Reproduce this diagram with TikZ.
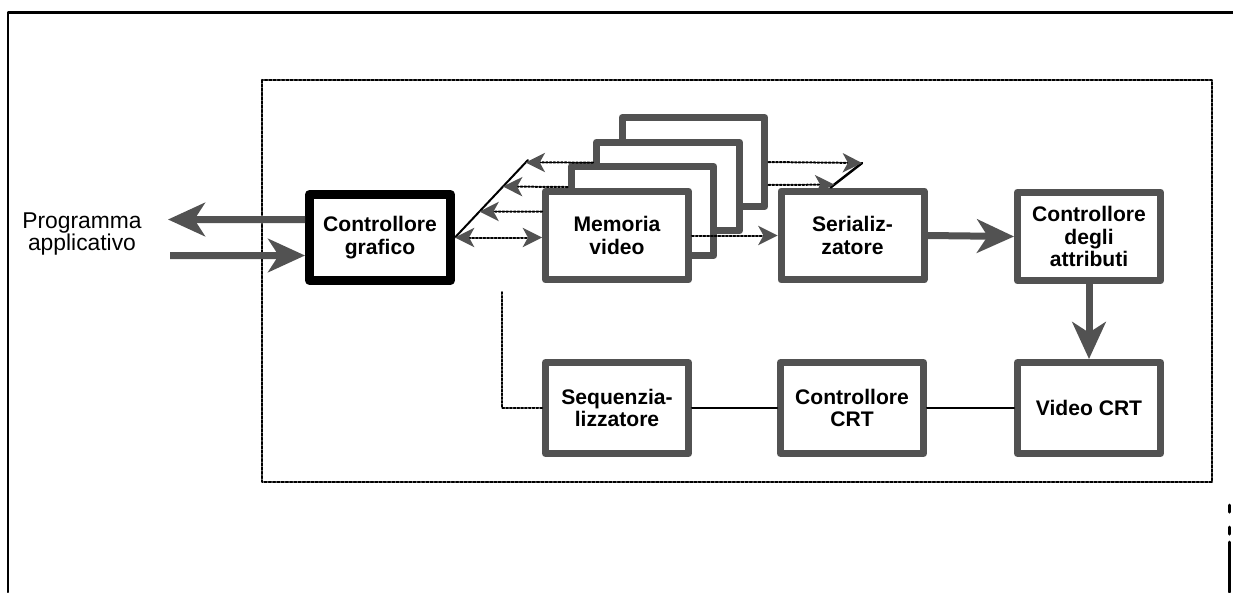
\documentclass[tikz,border=0pt]{standalone}
\usepackage{fontspec}
\setmainfont{Liberation Sans}
\usetikzlibrary{arrows.meta,calc}
\colorlet{retino}{black!68}
\tikzset{
	blocco/.style={draw=retino, fill=white, line width=0.14cm, minimum width=2.86cm, minimum height=1.78cm, inner sep=0pt, align=center},
	freccia/.style={draw=retino, line width=0.14cm, line cap=butt, -{Stealth[length=21pt, width=19pt, inset=6pt]}},
	punta/.tip={Stealth[length=11pt, width=11pt, inset=3pt, color=retino]},
	freccina/.style={densely dotted, line width=0.04cm, -punta}
}
\begin{document}
\begin{tikzpicture}[x=0.02cm, y=-0.02cm, line join=round, line cap=round, font=\bfseries\fontsize{12}{13}\selectfont]
	\useasboundingbox (0,0) rectangle (1233,592);
	% cornice esterna
	\draw[line width=0.06cm] (1233,12) -- (8,12) -- (8,592);
	\draw[line width=0.06cm] (1229,505) -- (1229,512) (1229,527) -- (1229,534) (1229,542) -- (1229,592);
	\draw[densely dotted, line width=0.05cm] (262,80) rectangle (1212,482);
	
	\node[align=center, font=\fontsize{13}{13}\selectfont] (prog) at (82,234) {Programma\\applicativo};
	\node[draw, line width=0.18cm, minimum width=2.82cm, minimum height=1.72cm, inner sep=0pt, align=center] (grafico) at (380,237.5) {Controllore\\grafico};
	
	% piani della memoria video
	\node[blocco] (piano3) at (693.5,162) {};
	\node[blocco] (piano2) at (668,186.5) {};
	\node[blocco] (piano1) at (642.5,211) {};
	\node[blocco] (memoria) at (617,235.5) {Memoria\\video};
	
	\node[blocco] (serial) at (852.5,235.5) {Serializ-\\zatore};
	\node[blocco] (attrib) at (1089,236.5) {Controllore\\degli\\attributi};
	\node[blocco, minimum height=1.82cm] (sequenz) at (617,408) {Sequenzia-\\lizzatore};
	\node[blocco, minimum height=1.82cm] (crt) at (852,408) {Controllore\\CRT};
	\node[blocco, minimum height=1.82cm] (video) at (1089,408) {Video CRT};
	
	\coordinate (uscita) at (168,219.5);
	\coordinate (ingresso) at (170,255.5);
	\coordinate (busS) at (528,160);
	\coordinate (busD) at (862,163);
	\coordinate (tap) at (502,292);
	
	\draw[freccia] ([yshift=.36cm]grafico.west) -- (uscita);
	\draw[freccia] (ingresso) -- ([yshift=-.36cm]grafico.west);
	
	% bus verso il controllore grafico
	\draw[line width=0.04cm] (grafico.east) -- (busS);
	\draw[freccina] ([yshift=.48cm]memoria.west) -- ($(grafico.east)!.335!(busS)$);
	\draw[freccina] ([yshift=.48cm]piano1.west) -- ($(grafico.east)!.658!(busS)$);
	\draw[freccina] ([yshift=.48cm]piano2.west) -- ($(grafico.east)!.968!(busS)$);
	\draw[freccina, punta-punta] (grafico.east) -- (grafico.east -| memoria.west);
	
	% bus verso il serializzatore
	\draw[line width=0.05cm] (busD) -- ([xshift=-.44cm]serial.north);
	\draw[freccina] (piano3.east) -- (busD);
	\draw[freccina] ([yshift=-.46cm]piano3.east) -- ($(busD)!.88!([xshift=-.44cm]serial.north)$);
	\draw[freccina] (memoria.east) -- (serial.west);
	
	\draw[freccia] (serial.east) -- (attrib.west);
	\draw[freccia] (attrib.south) -- (video.north);
	
	\draw[densely dotted, line width=0.04cm] (tap) |- (sequenz.west);
	\draw[line width=0.04cm] (sequenz.east) -- (crt.west);
	\draw[line width=0.04cm] (crt.east) -- (video.west);
\end{tikzpicture}
\end{document}
